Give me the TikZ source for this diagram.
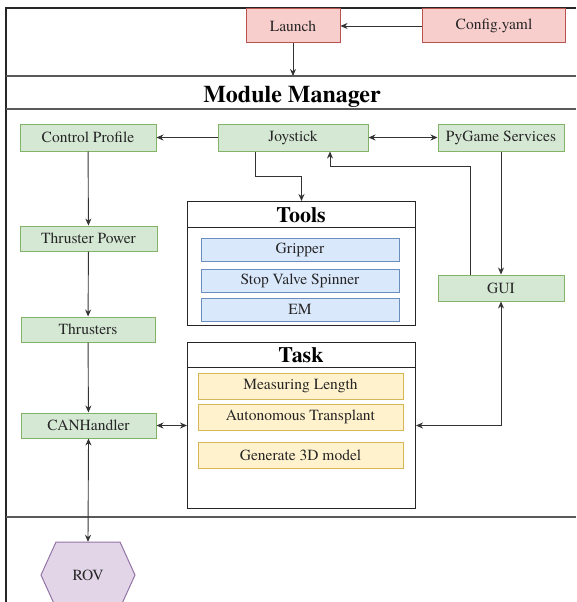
\documentclass[tikz,border=0pt]{standalone}
\usepackage{fontspec}
\setmainfont{TeX Gyre Termes}
\usetikzlibrary{arrows.meta,calc}
\definecolor{gfill}{HTML}{D5E8D4}\definecolor{gline}{HTML}{82B366}
\definecolor{pfill}{HTML}{F8CECC}\definecolor{pline}{HTML}{B85450}
\definecolor{bfill}{HTML}{DAE8FC}\definecolor{bline}{HTML}{6C8EBF}
\definecolor{yfill}{HTML}{FFF2CC}\definecolor{yline}{HTML}{D6B656}
\definecolor{vfill}{HTML}{E1D5E7}\definecolor{vline}{HTML}{9673A6}
\definecolor{edge}{HTML}{333333}
\tikzset{
  x=1pt, y=-1pt,
  lbl/.style={font=\fontsize{15.5}{18}\selectfont, inner sep=0pt, text=black!85},
  gbox/.style={lbl, draw=gline, fill=gfill, line width=1pt},
  pbox/.style={lbl, draw=pline, fill=pfill, line width=1pt},
  bbox/.style={lbl, draw=bline, fill=bfill, line width=1pt, minimum width=198, minimum height=23},
  ybox/.style={lbl, draw=yline, fill=yfill, line width=1pt, minimum width=205, minimum height=26},
  container/.style={draw=black!85, line width=1pt, fill=white, minimum width=228, inner sep=0pt, anchor=north west},
  ttl/.style={font=\fontsize{22}{24}\selectfont\bfseries, inner sep=0pt},
  arr/.style={draw=edge, line width=0.9pt, -{Stealth[length=7pt,width=6pt]}},
  darr/.style={draw=edge, line width=0.9pt, {Stealth[length=7pt,width=6pt]}-{Stealth[length=7pt,width=6pt]}},
  frame/.style={draw=black!65, line width=1.6pt},
}
\begin{document}
\begin{tikzpicture}
\clip (0,0) rectangle (576,602);
\fill[white] (0,0) rectangle (576,602);
% frame
\draw[frame, draw=black!85] (6,602) -- (6,8) -- (576,8);
\draw[frame] (6,76) -- (576,76);
\draw[frame] (6,109) -- (576,109);
\draw[frame] (6,517) -- (576,517);
\coordinate (mmtop) at (293,76);
\node[font=\fontsize{24}{26}\selectfont\bfseries, inner sep=0pt] (mm) at (292,96.5) {Module Manager};
% top
\node[pbox, minimum width=94, minimum height=34] (launch) at (293,26) {Launch};
\node[pbox, minimum width=143, minimum height=34] (config) at (494,26) {Config.yaml};
% green nodes
\node[gbox, minimum width=136, minimum height=27] (cp) at (88,137.5) {Control Profile};
\node[gbox, minimum width=150, minimum height=27] (joy) at (293,137.5) {Joystick};
\node[gbox, minimum width=126, minimum height=27] (py) at (501,137.5) {PyGame Services};
\node[gbox, minimum width=137, minimum height=25] (tp) at (88.5,238.5) {Thruster Power};
\node[gbox, minimum width=134, minimum height=25] (thr) at (88,329.5) {Thrusters};
\node[gbox, minimum width=135, minimum height=25] (can) at (88.5,425.5) {CANHandler};
\node[gbox, minimum width=126, minimum height=26] (gui) at (501,288) {GUI};
% Tools
\node[container, minimum height=124] (tools) at (187,201) {};
\draw[black!85, line width=1pt] ([yshift=-26pt]tools.north west) -- ([yshift=-26pt]tools.north east);
\node[ttl] (toolst) at (301,215.5) {Tools};
\node[bbox] (grip) at (300,249.5) {Gripper};
\node[bbox] (svs) at (300,280.5) {Stop Valve Spinner};
\node[bbox] (em) at (300,309.5) {EM};
% Task
\node[container, minimum height=166] (task) at (187,342) {};
\draw[black!85, line width=1pt] ([yshift=-25pt]task.north west) -- ([yshift=-25pt]task.north east);
\node[ttl] (taskt) at (301,355.5) {Task};
\node[ybox] (ml) at (300.5,386) {Measuring Length};
\node[ybox] (at) at (300.5,417) {Autonomous Transplant};
\node[ybox] (g3d) at (300.5,455) {Generate 3D model};
% ROV
\draw[draw=vline, fill=vfill, line width=1pt] (41,575) -- (56,542) -- (120,542) -- (135,575) -- (120,608) -- (56,608) -- cycle;
\node[lbl, minimum width=94, minimum height=66] (rov) at (88,575) {ROV};
% edges
\draw[arr] (config) -- (launch);
\draw[arr] (launch) -- (mmtop);
\draw[arr] (joy) -- (cp);
\draw[darr] (joy) -- (py);
\draw[arr] ([xshift=-38pt]joy.south) -- ++(0,25) -| (tools.north);
\draw[arr] ([xshift=-31pt]gui.north) -- ++(0,-108) -| ([xshift=37pt]joy.south);
\draw[arr] (py) -- (gui);
\draw[darr] (gui.south) |- (task.east);
\draw[darr] (can.east) -- (can.east -| task.west);
\draw[arr] (cp) -- (tp);
\draw[arr] (tp) -- (thr);
\draw[arr] (thr) -- (can);
\draw[darr] (can.south) -- (rov.north);
\end{tikzpicture}
\end{document}
